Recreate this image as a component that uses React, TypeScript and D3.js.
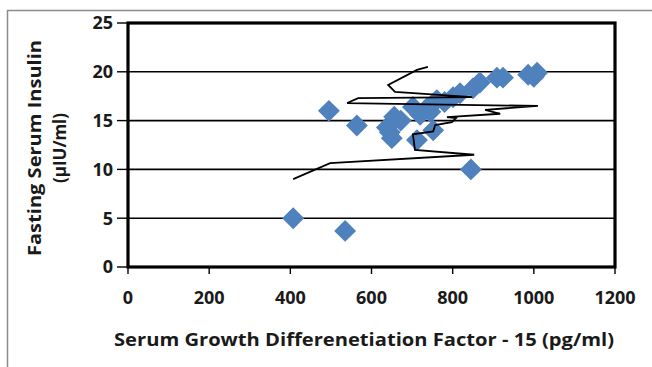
import React, { useEffect, useRef } from 'react';
import * as d3 from 'd3';

// scatter points (GDF-15 pg/ml, insulin µIU/ml)
const pointX = [407, 535, 495, 564, 845, 638, 650, 645, 656, 672, 702, 712, 752, 737, 720, 745, 761, 780, 801, 818, 850, 867, 909, 924, 986, 1000, 1008];
const pointY = [5.0, 3.7, 16.0, 14.5, 10.0, 14.3, 13.2, 13.8, 15.4, 15.0, 16.4, 13.0, 14.0, 16.3, 15.6, 15.9, 17.1, 16.9, 17.4, 17.8, 18.3, 18.9, 19.4, 19.4, 19.7, 19.5, 19.9];

// black connecting line
const lineX = [407, 498, 853, 707, 702, 752, 757, 798, 808, 786, 917, 880, 1010, 540, 567, 848, 658, 641, 712, 739];
const lineY = [9.0, 10.65, 11.5, 12.0, 13.6, 13.9, 14.55, 14.85, 15.25, 15.35, 15.7, 16.1, 16.5, 16.8, 17.3, 17.4, 17.95, 18.65, 20.2, 20.5];

const xTicks = [0, 200, 400, 600, 800, 1000, 1200];
const yTicks = [0, 5, 10, 15, 20, 25];
const gridValues = [5, 10, 15, 20];

const xTitle = 'Serum Growth Differenetiation Factor - 15 (pg/ml)';
const yTitle1 = 'Fasting Serum Insulin';
const yTitle2 = '(µIU/ml)';

const width = 652;
const height = 367;
const plot = { left: 128, right: 615, top: 23, bottom: 267 };

function App() {
  const ref = useRef<SVGSVGElement>(null);

  useEffect(() => {
    const svg = d3.select(ref.current);
    svg.selectAll('*').remove();

    const x = d3.scaleLinear().domain([0, 1200]).range([plot.left, plot.right]);
    const y = d3.scaleLinear().domain([0, 25]).range([plot.bottom, plot.top]);
    const font = "'Open Sans', sans-serif";

    // outer chart border (only left and top visible)
    svg.append('line').attr('x1', 7.5).attr('x2', 7.5).attr('y1', 10).attr('y2', height)
      .attr('stroke', '#8c8c8c').attr('stroke-width', 1.5);
    svg.append('line').attr('x1', 7).attr('x2', width).attr('y1', 10.5).attr('y2', 10.5)
      .attr('stroke', '#8c8c8c').attr('stroke-width', 1.5);

    // gridlines
    svg.selectAll('.grid').data(gridValues).enter().append('line')
      .attr('x1', plot.left).attr('x2', plot.right)
      .attr('y1', (d) => y(d)).attr('y2', (d) => y(d))
      .attr('stroke', '#000').attr('stroke-width', 1.6);

    // ticks
    svg.selectAll('.ytick').data(yTicks).enter().append('line')
      .attr('x1', plot.left - 11).attr('x2', plot.left)
      .attr('y1', (d) => y(d)).attr('y2', (d) => y(d))
      .attr('stroke', '#000').attr('stroke-width', 1.4);
    svg.selectAll('.xtick').data(xTicks).enter().append('line')
      .attr('x1', (d) => x(d)).attr('x2', (d) => x(d))
      .attr('y1', plot.bottom).attr('y2', plot.bottom + 7)
      .attr('stroke', '#000').attr('stroke-width', 1.4);

    // tick labels
    svg.selectAll('.ylab').data(yTicks).enter().append('text')
      .attr('x', plot.left - 15).attr('y', (d) => y(d))
      .attr('dy', '0.36em').attr('text-anchor', 'end')
      .style('font-family', font).style('font-size', '18px').style('font-weight', 700)
      .attr('fill', '#1a1a1a')
      .text((d) => d);
    svg.selectAll('.xlab').data(xTicks).enter().append('text')
      .attr('x', (d) => x(d)).attr('y', 304)
      .attr('text-anchor', 'middle')
      .style('font-family', font).style('font-size', '18px').style('font-weight', 700)
      .attr('fill', '#1a1a1a')
      .text((d) => d);

    // axis titles
    svg.append('text')
      .attr('x', 364).attr('y', 346)
      .attr('text-anchor', 'middle')
      .attr('textLength', 500).attr('lengthAdjust', 'spacingAndGlyphs')
      .style('font-family', font).style('font-size', '17px').style('font-weight', 700)
      .attr('fill', '#1a1a1a')
      .text(xTitle);
    svg.append('text')
      .attr('transform', 'translate(41,148) rotate(-90)')
      .attr('text-anchor', 'middle')
      .attr('textLength', 216).attr('lengthAdjust', 'spacingAndGlyphs')
      .style('font-family', font).style('font-size', '17px').style('font-weight', 700)
      .attr('fill', '#1a1a1a')
      .text(yTitle1);
    svg.append('text')
      .attr('transform', 'translate(66,148) rotate(-90)')
      .attr('text-anchor', 'middle')
      .style('font-family', font).style('font-size', '17px').style('font-weight', 700)
      .attr('fill', '#1a1a1a')
      .text(yTitle2);

    // diamonds
    const symbol = d3.symbol().type(d3.symbolSquare).size(240);
    svg.selectAll('.pt').data(pointX).enter().append('path')
      .attr('d', symbol)
      .attr('transform', (d, i) => `translate(${x(d)},${y(pointY[i])}) rotate(45)`)
      .attr('fill', '#4f81bd');

    // line
    const line = d3.line<number>()
      .x((d) => x(d))
      .y((_, i) => y(lineY[i]));
    svg.append('path')
      .attr('d', line(lineX))
      .attr('fill', 'none')
      .attr('stroke', '#000')
      .attr('stroke-width', 1.8)
      .attr('stroke-linejoin', 'miter');

    // plot frame
    svg.append('rect')
      .attr('x', plot.left).attr('y', plot.top)
      .attr('width', plot.right - plot.left).attr('height', plot.bottom - plot.top)
      .attr('fill', 'none').attr('stroke', '#000').attr('stroke-width', 3.2);
  }, []);

  return (
    <svg
      ref={ref}
      width={width}
      height={height}
      style={{ position: 'absolute', left: 0, top: 0, background: '#fff' }}
    />
  );
}

export default App;
